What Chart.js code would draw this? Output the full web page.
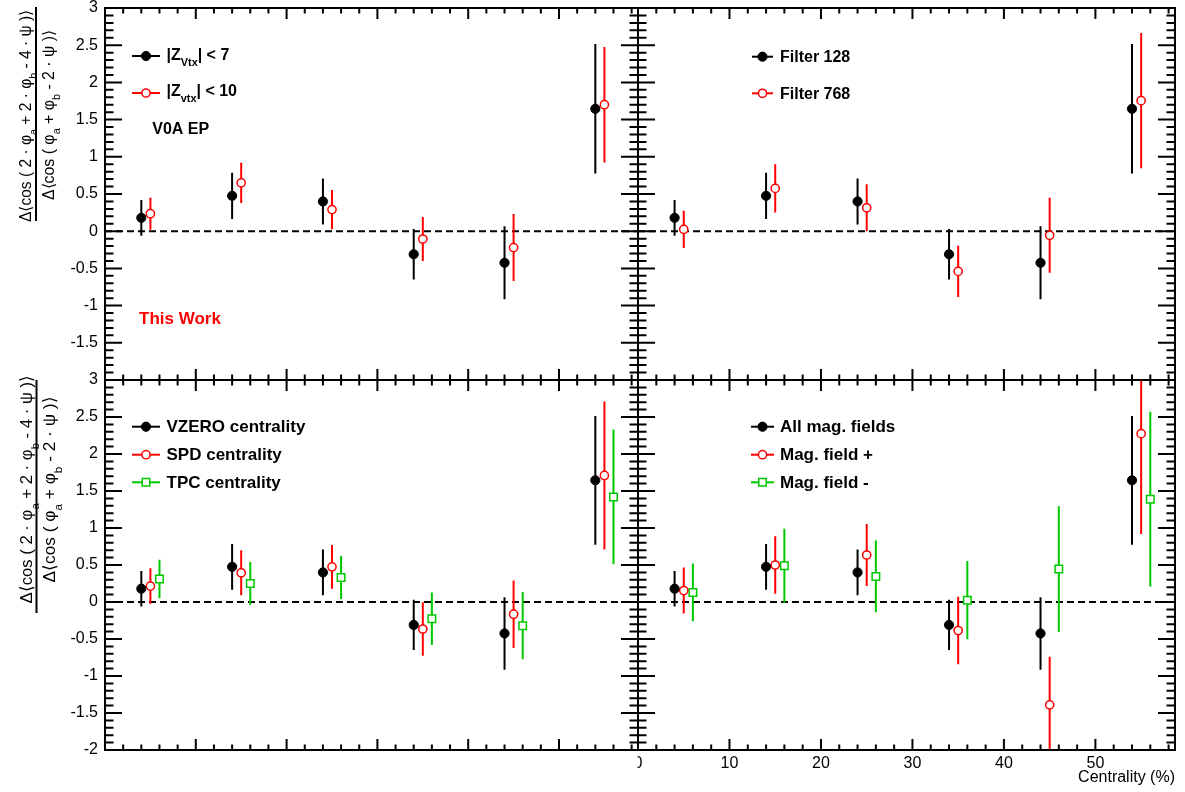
<!DOCTYPE html>
<html>
<head>
<meta charset="utf-8">
<script src="https://cdn.jsdelivr.net/npm/chart.js@4.4.1/dist/chart.umd.min.js"></script>
<style>
html,body{margin:0;padding:0;background:#fff;}
#wrap{position:relative;width:1185px;height:792px;overflow:hidden;background:#fff;}
#wrap canvas{position:absolute;left:0;top:0;}
</style>
</head>
<body>
<div id="wrap">
<canvas id="cBR" width="1185" height="792"></canvas>
<canvas id="cBL" width="1185" height="792"></canvas>
<canvas id="cTR" width="1185" height="792"></canvas>
<canvas id="cTL" width="1185" height="792"></canvas>
</div>
<script>
// ---------------- data ----------------
const X_MIN = 0, X_MAX = 58.7;
const Y_MIN = -2, Y_MAX = 3;
const xTickValues = [0, 10, 20, 30, 40, 50];
const yTickValuesTop = [3, 2.5, 2, 1.5, 1, 0.5, 0, -0.5, -1, -1.5];
const yTickValuesBottom = [3, 2.5, 2, 1.5, 1, 0.5, 0, -0.5, -1, -1.5, -2];

const xBlack = [4, 14, 24, 34, 44, 54];
const xRed   = [5, 15, 25, 35, 45, 55];
const xGreen = [6, 16, 26, 36, 46, 56];

// reference (black) : |Zvtx|<7 / Filter 128 / VZERO centrality / All mag. fields
const refVal = [0.18, 0.475, 0.40, -0.31, -0.425, 1.645];
const refErr = [0.24, 0.31, 0.31, 0.34, 0.49, 0.87];
// |Zvtx| < 10
const zvtx10Val = [0.235, 0.65, 0.29, -0.105, -0.22, 1.70];
const zvtx10Err = [0.215, 0.27, 0.265, 0.295, 0.45, 0.775];
// Filter 768
const filt768Val = [0.025, 0.575, 0.315, -0.54, -0.055, 1.755];
const filt768Err = [0.25, 0.325, 0.315, 0.345, 0.505, 0.91];
// SPD centrality
const spdVal = [0.215, 0.395, 0.475, -0.365, -0.165, 1.71];
const spdErr = [0.24, 0.305, 0.295, 0.36, 0.455, 1.0];
// TPC centrality
const tpcVal = [0.31, 0.25, 0.33, -0.225, -0.32, 1.42];
const tpcErr = [0.26, 0.29, 0.29, 0.355, 0.455, 0.91];
// Mag. field +
const magPlusVal = [0.155, 0.50, 0.635, -0.385, -1.39, 2.275];
const magPlusErr = [0.31, 0.39, 0.42, 0.455, 0.65, 1.355];
// Mag. field -
const magMinusVal = [0.13, 0.49, 0.345, 0.025, 0.445, 1.39];
const magMinusErr = [0.39, 0.50, 0.485, 0.53, 0.85, 1.18];

// ---------------- styles ----------------
const FONT = '"Liberation Sans", Arial, Helvetica, sans-serif';
const BLACK = '#000000', RED = '#ff0000', GREEN = '#00c800';
const STY = {
  filled: {color: BLACK, style: 'circle', r: 4.6, fill: BLACK, bw: 1},
  open:   {color: RED, style: 'circle', r: 4.1, fill: '#ffffff', bw: 1.5},
  square: {color: GREEN, style: 'rect', r: 5.3, fill: '#ffffff', bw: 1.5}
};

function errBarData(xs, ys, es) {
  const out = [];
  xs.forEach((x, i) => { out.push({x: x, y: ys[i] - es[i]}, {x: x, y: ys[i] + es[i]}, {x: x, y: null}); });
  return out;
}
function seriesDatasets(xs, ys, es, st) {
  const s = STY[st];
  return [
    {type: 'line', data: errBarData(xs, ys, es), borderColor: s.color, borderWidth: 2,
     pointRadius: 0, fill: false, spanGaps: false, order: 2, clip: 0},
    {type: 'scatter', data: xs.map((x, i) => ({x: x, y: ys[i]})), pointStyle: s.style,
     pointRadius: s.r, backgroundColor: s.fill, borderColor: s.color, borderWidth: s.bw, order: 1, clip: 0}
  ];
}
function zeroLine() {
  return {type: 'line', data: [{x: X_MIN, y: 0}, {x: X_MAX, y: 0}], borderColor: BLACK, borderWidth: 2,
          borderDash: [7, 4], pointRadius: 0, fill: false, order: 3, clip: 0};
}

// rich text helpers (subscripts)
function fontStr(seg, size) {
  const sz = seg.sub ? size * 0.68 : size;
  return (seg.bold ? 'bold ' : '') + sz.toFixed(2) + 'px ' + FONT;
}
function richWidth(ctx, segs, size) {
  let w = 0;
  for (const s of segs) { ctx.font = fontStr(s, size); w += ctx.measureText(s.t).width; }
  return w;
}
function drawRich(ctx, segs, x, y, size, color) {
  ctx.fillStyle = color; ctx.textBaseline = 'alphabetic'; ctx.textAlign = 'left';
  for (const s of segs) {
    ctx.font = fontStr(s, size);
    const dy = s.sub ? size * 0.4 : 0;
    ctx.fillText(s.t, x, y + dy);
    x += ctx.measureText(s.t).width;
  }
}

const NUM = [{t: 'Δ⟨cos ( 2 · φ'}, {t: 'a', sub: 1}, {t: ' + 2 · φ'}, {t: 'b', sub: 1}, {t: ' - 4 · ψ )⟩'}];
const DEN = [{t: 'Δ⟨cos ( φ'}, {t: 'a', sub: 1}, {t: ' + φ'}, {t: 'b', sub: 1}, {t: ' - 2 · ψ )⟩'}];

function drawYTitle(ctx, t) {
  ctx.save();
  ctx.strokeStyle = BLACK; ctx.lineWidth = 2;
  ctx.beginPath(); ctx.moveTo(t.lineX, t.lineY0); ctx.lineTo(t.lineX, t.lineY1); ctx.stroke();
  for (const part of [{segs: NUM, bx: t.numX, cy: t.numCy, len: t.numLen}, {segs: DEN, bx: t.denX, cy: t.denCy, len: t.denLen}]) {
    const size = 16 * part.len / richWidth(ctx, part.segs, 16);
    ctx.save();
    ctx.translate(part.bx, part.cy);
    ctx.rotate(-Math.PI / 2);
    drawRich(ctx, part.segs, -part.len / 2, 0, size, BLACK);
    ctx.restore();
  }
  ctx.restore();
}

function drawLegend(ctx, L) {
  ctx.save();
  for (const e of L.entries) {
    const s = STY[e.st];
    ctx.strokeStyle = s.color; ctx.lineWidth = 2;
    ctx.beginPath(); ctx.moveTo(L.x1, e.y); ctx.lineTo(L.x2, e.y); ctx.stroke();
    const cx = (L.x1 + L.x2) / 2;
    ctx.fillStyle = s.fill; ctx.strokeStyle = s.color; ctx.lineWidth = s.bw;
    ctx.beginPath();
    if (s.style === 'rect') { const h = s.r * Math.SQRT1_2; ctx.rect(cx - h, e.y - h, 2 * h, 2 * h); }
    else { ctx.arc(cx, e.y, s.r, 0, Math.PI * 2); }
    ctx.fill(); ctx.stroke();
    drawRich(ctx, e.segs, L.tx, e.tb, L.size, BLACK);
  }
  for (const t of (L.texts || [])) drawRich(ctx, t.segs, t.x, t.y, t.size, t.color);
  ctx.restore();
}

const frameTicks = {
  id: 'frameTicks',
  afterDatasetsDraw(chart) {
    const {ctx, chartArea: a} = chart;
    const x = chart.scales.x, y = chart.scales.y;
    ctx.save();
    ctx.strokeStyle = BLACK; ctx.lineWidth = 2; ctx.lineCap = 'butt';
    ctx.beginPath();
    for (let i = 0; ; i++) {
      const v = X_MIN + i * 2; if (v > X_MAX + 1e-9) break;
      const px = x.getPixelForValue(v); const Lx = (i % 5 === 0) ? 11 : 5.5;
      ctx.moveTo(px, a.top); ctx.lineTo(px, a.top + Lx);
      ctx.moveTo(px, a.bottom); ctx.lineTo(px, a.bottom - Lx);
    }
    for (let i = 0; ; i++) {
      const v = Y_MIN + i * 0.1; if (v > Y_MAX + 1e-9) break;
      const py = y.getPixelForValue(v); const Ly = (i % 5 === 0) ? 17 : 8.5;
      ctx.moveTo(a.left, py); ctx.lineTo(a.left + Ly, py);
      ctx.moveTo(a.right, py); ctx.lineTo(a.right - Ly, py);
    }
    ctx.stroke();
    ctx.strokeRect(a.left, a.top, a.right - a.left, a.bottom - a.top);
    ctx.restore();
  },
  afterDraw(chart) {
    const p = chart.options.plugins.panel;
    const ctx = chart.ctx;
    if (p.maskZero) { ctx.save(); ctx.fillStyle = '#ffffff'; ctx.fillRect(610, 752, 27.5, 40); ctx.restore(); }
    if (p.ytitle) drawYTitle(ctx, p.ytitle);
    if (p.legend) drawLegend(ctx, p.legend);
  }
};

const W = 1185, H = 792, XH = 40;

function makePanel(id, rect, showX, showY, yTicks, datasets, panelOpts) {
  const pad = {
    left: showY ? 0 : rect.l,
    right: W - rect.r,
    top: rect.t,
    bottom: showX ? H - rect.b - XH : H - rect.b
  };
  new Chart(document.getElementById(id), {
    type: 'scatter',
    data: {datasets: [zeroLine()].concat(datasets)},
    options: {
      responsive: false, animation: false, devicePixelRatio: 1, events: [],
      layout: {padding: pad},
      plugins: {legend: {display: false}, tooltip: {enabled: false}, panel: panelOpts},
      scales: {
        x: {
          type: 'linear', min: X_MIN, max: X_MAX, display: showX, position: 'bottom',
          grid: {display: false, drawTicks: false}, border: {display: false},
          ticks: {font: {family: FONT, size: 16}, color: BLACK, padding: 4, maxRotation: 0, autoSkip: false,
                  callback: v => String(v)},
          afterBuildTicks: s => { s.ticks = xTickValues.map(v => ({value: v})); },
          afterFit: s => { if (showX) { s.height = XH; } else { s.height = 0; } s.paddingLeft = 0; s.paddingRight = 0; },
          title: {display: true, text: 'Centrality (%)', align: 'end', color: BLACK,
                  font: {family: FONT, size: 16}, padding: {top: 0, bottom: 3}}
        },
        y: {
          type: 'linear', min: Y_MIN, max: Y_MAX, display: showY, position: 'left',
          grid: {display: false, drawTicks: false}, border: {display: false},
          ticks: {font: {family: FONT, size: 16}, color: BLACK, padding: 7, autoSkip: false,
                  callback: v => String(v)},
          afterBuildTicks: s => { s.ticks = yTicks.map(v => ({value: v})); },
          afterFit: s => { s.width = showY ? rect.l : 0; s.paddingTop = 0; s.paddingBottom = 0; }
        }
      }
    },
    plugins: [frameTicks]
  });
}

const B = t => ({t: t, bold: 1});
const BS = t => ({t: t, bold: 1, sub: 1});

// bottom-right
makePanel('cBR', {l: 638, t: 380, r: 1175, b: 750}, true, false, yTickValuesBottom,
  [].concat(seriesDatasets(xBlack, refVal, refErr, 'filled'),
            seriesDatasets(xRed, magPlusVal, magPlusErr, 'open'),
            seriesDatasets(xGreen, magMinusVal, magMinusErr, 'square')),
  {legend: {x1: 751, x2: 774, tx: 780, size: 17, entries: [
    {st: 'filled', y: 426.7, tb: 432.3, segs: [B('All mag. fields')]},
    {st: 'open', y: 454.7, tb: 460, segs: [B('Mag. field +')]},
    {st: 'square', y: 482.3, tb: 487.5, segs: [B('Mag. field -')]}]}});

// bottom-left
makePanel('cBL', {l: 105, t: 380, r: 638, b: 750}, false, true, yTickValuesBottom,
  [].concat(seriesDatasets(xBlack, refVal, refErr, 'filled'),
            seriesDatasets(xRed, spdVal, spdErr, 'open'),
            seriesDatasets(xGreen, tpcVal, tpcErr, 'square')),
  {maskZero: true,
   ytitle: {lineX: 36.5, lineY0: 380, lineY1: 613, numX: 32, numCy: 490, numLen: 227, denX: 55, denCy: 490, denLen: 185},
   legend: {x1: 132, x2: 160, tx: 166.5, size: 17, entries: [
    {st: 'filled', y: 426.7, tb: 432.3, segs: [B('VZERO centrality')]},
    {st: 'open', y: 454.7, tb: 460, segs: [B('SPD centrality')]},
    {st: 'square', y: 482.3, tb: 487.5, segs: [B('TPC centrality')]}]}});

// top-right
makePanel('cTR', {l: 638, t: 8, r: 1175, b: 380}, false, false, yTickValuesTop,
  [].concat(seriesDatasets(xBlack, refVal, refErr, 'filled'),
            seriesDatasets(xRed, filt768Val, filt768Err, 'open')),
  {legend: {x1: 752, x2: 773, tx: 780, size: 16, entries: [
    {st: 'filled', y: 56.7, tb: 62.3, segs: [B('Filter 128')]},
    {st: 'open', y: 93.3, tb: 99, segs: [B('Filter 768')]}]}});

// top-left
makePanel('cTL', {l: 105, t: 8, r: 638, b: 380}, false, true, yTickValuesTop,
  [].concat(seriesDatasets(xBlack, refVal, refErr, 'filled'),
            seriesDatasets(xRed, zvtx10Val, zvtx10Err, 'open')),
  {ytitle: {lineX: 36, lineY0: 7, lineY1: 221, numX: 31, numCy: 116, numLen: 212, denX: 54, denCy: 115, denLen: 170},
   legend: {x1: 132, x2: 160, tx: 166.5, size: 16, entries: [
    {st: 'filled', y: 56, tb: 59.5, segs: [B('|Z'), BS('Vtx'), B('| < 7')]},
    {st: 'open', y: 93, tb: 96, segs: [B('|Z'), BS('vtx'), B('| < 10')]}],
    texts: [
      {segs: [B('V0A EP')], x: 152.3, y: 134.3, size: 16, color: BLACK},
      {segs: [B('This Work')], x: 139, y: 324, size: 17, color: RED}]}});
</script>
</body>
</html>
